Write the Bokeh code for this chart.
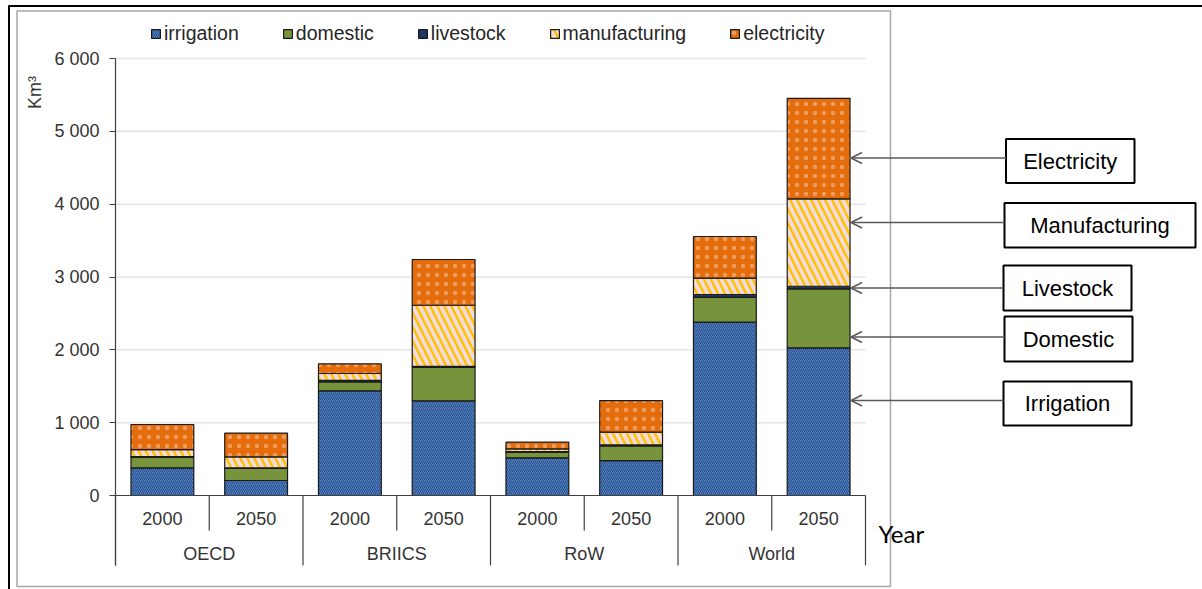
import numpy as np
from bokeh.plotting import figure
from bokeh.models import (Range1d, LinearAxis, FixedTicker, ColumnDataSource, Legend,
                          LegendItem, Arrow, OpenHead)
from bokeh.core.properties import value
from bokeh.embed import file_html
from bokeh.resources import INLINE

# ---------------- data ----------------
regions = ["OECD", "BRIICS", "RoW", "World"]
years = ["2000", "2050"]
series = ["irrigation", "domestic", "livestock", "manufacturing", "electricity"]
irrigation = [380, 206, 1437, 1300, 517, 480, 2380, 2028]
domestic = [145, 165, 123, 460, 75, 200, 345, 810]
livestock = [10, 10, 20, 12, 12, 15, 35, 35]
manufacturing = [95, 150, 95, 840, 35, 175, 225, 1200]
electricity = [345, 325, 133, 628, 93, 434, 571, 1380]
y_ticks = [0, 1000, 2000, 3000, 4000, 5000, 6000]
y_tick_labels = ["0", "1 000", "2 000", "3 000", "4 000", "5 000", "6 000"]
callouts = ["Electricity", "Manufacturing", "Livestock", "Domestic", "Irrigation"]
y_label = "Km³"
x_label = "Year"

# ---------------- layout (window pixels) ----------------
W, H = 1202, 589
OX, OY = 0, 0
AXIS_X, CAT_RIGHT = 115, 865
ZERO_Y, TOP_Y = 495, 58
n_cat = len(regions) * len(years)
unit = (CAT_RIGHT - AXIS_X) / n_cat
sy = (ZERO_Y - TOP_Y) / y_ticks[-1]

x_range = Range1d((OX - AXIS_X) / unit, (OX + W - AXIS_X) / unit)
y_range = Range1d(-(OY + H - ZERO_Y) / sy, (ZERO_Y - OY) / sy)

p = figure(width=W, height=H, x_range=x_range, y_range=y_range,
           x_axis_location=None, y_axis_location=None,
           toolbar_location=None, output_backend="svg", min_border=0,
           outline_line_color=None, background_fill_color="white",
           border_fill_color="white")
for g in p.grid:
    g.visible = False
p.extra_x_ranges = {"px": Range1d(OX, OX + W)}
p.extra_y_ranges = {"py": Range1d(OY + H, OY)}

FONT = value("Liberation Sans")

# frame decorations
p.segment(x0=[8.5, 8], x1=[8.5, W], y0=[5, 5.5], y1=[H, 5.5], line_color="black",
          line_width=2, x_range_name="px", y_range_name="py")
p.quad(left=[16.5], right=[890], top=[10.5], bottom=[586], fill_color=None,
       line_color="#a6a6a6", line_width=1.5, x_range_name="px", y_range_name="py")

# gridlines
p.segment(x0=0, x1=n_cat, y0=y_ticks[1:], y1=y_ticks[1:], line_color="#e6e6e6",
          line_width=1.5)

# stacked bars
xs = np.arange(n_cat) + 0.5
vals = [irrigation, domestic, livestock, manufacturing, electricity]
styles = [
    dict(fill_color="#4a7cc0", hatch_pattern="/", hatch_color="#28497a", hatch_scale=4,
         hatch_weight=1, hatch_alpha=0.8),
    dict(fill_color="#77933c"),
    dict(fill_color="#1f3864"),
    dict(fill_color="#f2dcdb", hatch_pattern="\\", hatch_color="#ffc000", hatch_scale=14,
         hatch_weight=2.4),
    dict(fill_color="#e46c0a", hatch_pattern=".", hatch_color="#f6c3a0", hatch_scale=9,
         hatch_weight=1, hatch_alpha=0.55),
]
bottom = np.zeros(n_cat)
items = []
for name, v, st in zip(series, vals, styles):
    v = np.array(v, dtype=float)
    src = ColumnDataSource(dict(x=xs, bottom=bottom.copy(), top=bottom + v))
    r = p.vbar(x="x", bottom="bottom", top="top", width=0.67, source=src,
               line_color="#1a1a1a", line_width=1.2, **st)
    items.append(LegendItem(label=name, renderers=[r]))
    bottom = bottom + v

# x axis line and separators
p.segment(x0=[0], x1=[n_cat], y0=[0], y1=[0], line_color="#404040", line_width=1.2)
group_edges = np.arange(len(regions) + 1) * len(years)
inner = np.array([g + k for g in group_edges[:-1] for k in range(1, len(years))])
p.segment(x0=group_edges, x1=group_edges, y0=ZERO_Y, y1=565, line_color="#404040",
          line_width=1.2, y_range_name="py")
p.segment(x0=inner, x1=inner, y0=ZERO_Y, y1=530, line_color="#404040",
          line_width=1.2, y_range_name="py")

# category labels
year_labels = [y for _ in regions for y in years]
p.text(x=xs, y=[518] * n_cat, text=year_labels, y_range_name="py", text_align="center",
       text_baseline="middle", text_font=FONT, text_font_size="18px", text_color="#333333")
gx = (group_edges[:-1] + group_edges[1:]) / 2
p.text(x=gx, y=[553] * len(regions), text=regions, y_range_name="py", text_align="center",
       text_baseline="middle", text_font=FONT, text_font_size="18px", text_color="#333333")

# y axis
yaxis = LinearAxis(fixed_location=0, ticker=FixedTicker(ticks=y_ticks),
                   bounds=(-(565 - ZERO_Y) / sy, y_ticks[-1]),
                   major_label_overrides={t: l for t, l in zip(y_ticks, y_tick_labels)},
                   axis_line_color="#404040", axis_line_width=1.2,
                   major_tick_line_color="#404040", major_tick_in=0, major_tick_out=6,
                   minor_tick_line_color=None, major_label_standoff=10,
                   major_label_text_font="Liberation Sans",
                   major_label_text_font_size="18px", major_label_text_color="#333333")
p.add_layout(yaxis, "left")

p.text(x=[34], y=[92], text=[y_label], angle=np.pi / 2, x_range_name="px", y_range_name="py",
       text_align="center", text_baseline="middle", text_font=FONT,
       text_font_size="18px", text_color="#333333")
p.text(x=[878], y=[533], text=[x_label], x_range_name="px", y_range_name="py",
       text_align="left", text_baseline="middle", text_font=value("Lato"),
       text_font_size="24px", text_color="black")

# call-out boxes
box_l = [1005.5, 1004, 1003, 1004, 1003]
box_r = [1134, 1195, 1131, 1132, 1131]
box_t = [138.5, 202.5, 265, 316, 381]
box_b = [182.5, 247, 310, 361, 425]
arrow_y = [157.5, 222, 287.5, 336.5, 400]
tip_x = AXIS_X + (xs[-1] + 0.67 / 2) * unit + 1
for l, yv in zip(box_l, arrow_y):
    p.add_layout(Arrow(end=OpenHead(size=11, line_color="#595959", line_width=1.5),
                       x_start=l, y_start=yv, x_end=tip_x, y_end=yv,
                       x_range_name="px", y_range_name="py",
                       line_color="#595959", line_width=1.5))
p.quad(left=box_l, right=box_r, top=box_t, bottom=box_b, fill_color="white",
       line_color="black", line_width=2, x_range_name="px", y_range_name="py")
p.text(x=[(a + b) / 2 for a, b in zip(box_l, box_r)],
       y=[(a + b) / 2 for a, b in zip(box_t, box_b)], text=callouts,
       x_range_name="px", y_range_name="py", text_align="center", text_baseline="middle",
       text_font=FONT, text_font_size="22px", text_color="black")

legend = Legend(items=items, orientation="horizontal", location=(150, 544),
                glyph_width=11, glyph_height=11, label_standoff=3, spacing=43,
                padding=0, margin=0, border_line_color=None, background_fill_alpha=0,
                label_text_font="Liberation Sans", label_text_font_size="19.5px",
                label_text_color="#262626")
p.add_layout(legend)

open("out.html", "w").write(file_html(p, INLINE))
